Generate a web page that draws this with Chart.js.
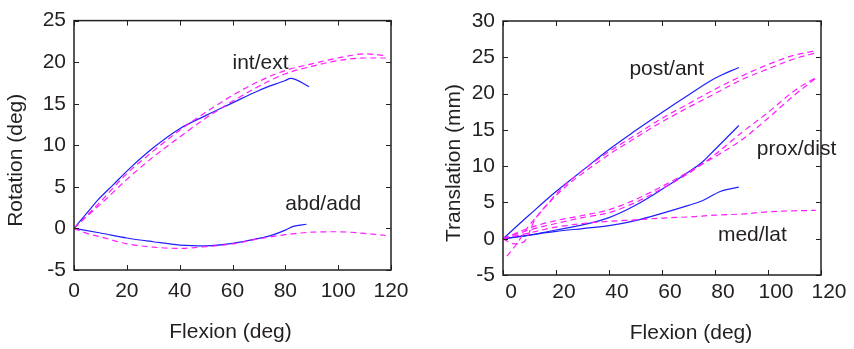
<!DOCTYPE html>
<html>
<head>
<meta charset="utf-8">
<script src="https://cdn.jsdelivr.net/npm/chart.js@4.4.6/dist/chart.umd.min.js"></script>
<style>
  html, body { margin: 0; padding: 0; background: #fff; }
  .wrap { position: absolute; top: 0; width: 427px; height: 349px; }
  #left { left: 0; }
  #right { left: 427px; }
</style>
</head>
<body>
<div class="wrap" id="left"><canvas id="rot"></canvas></div>
<div class="wrap" id="right"><canvas id="tra"></canvas></div>
<script>
// ---------------------------------------------------------------------------
// Data (flexion in deg on x)
// ---------------------------------------------------------------------------

// Rotation — int/ext
const ieBlueX = [0, 5, 9, 15, 21, 30, 40, 50, 60, 70, 80, 82, 89]
const ieBlueY = [0, 1.9, 3.4, 5.3, 7.2, 9.7, 12.0, 13.6, 15.1, 16.6, 17.8, 18.05, 17.05]
const ieMagX = [0, 5, 10, 20, 30, 40, 50, 60, 70, 80, 90, 100, 110, 118]
const ieMagAY = [0, 1.6, 3.2, 6.6, 9.3, 11.8, 14.0, 16.0, 17.7, 19.0, 19.8, 20.5, 21.0, 20.8]
const ieMagBY = [0, 1.5, 2.9, 5.9, 8.6, 11.0, 13.3, 15.3, 17.1, 18.6, 19.5, 20.2, 20.5, 20.5]

// Rotation — abd/add
const aaBlueX = [0, 10, 20, 30, 40, 50, 60, 70, 75, 80, 83, 88]
const aaBlueY = [0, -0.55, -1.15, -1.6, -2.0, -2.1, -1.8, -1.2, -0.8, -0.2, 0.25, 0.5]
const aaMagX = [0, 5, 10, 20, 30, 40, 50, 60, 70, 80, 90, 100, 110, 118]
const aaMagY = [0, -0.6, -1.0, -1.85, -2.25, -2.4, -2.2, -1.85, -1.25, -0.75, -0.45, -0.4, -0.6, -0.85]

// Translation — post/ant
const paBlueX = [0, 10, 20, 30, 40, 50, 60, 70, 80, 89]
const paBlueY = [0, 3.3, 6.5, 9.4, 12.3, 14.9, 17.4, 19.8, 22.1, 23.6]
const paMagAX = [1.5, 5, 9, 15, 22, 30, 40, 50, 60, 70, 80, 90, 100, 110, 118]
const paMagAY = [-2.4, -0.8, 1.4, 4.0, 6.9, 9.4, 12.0, 14.3, 16.6, 18.6, 20.6, 22.4, 24.0, 25.3, 25.9]
const paMagBX = [0, 4, 8, 12, 18, 25, 30, 40, 50, 60, 70, 80, 90, 100, 110, 118]
const paMagBY = [0, -0.7, -0.4, 2.6, 5.2, 7.6, 9.0, 11.6, 13.9, 16.1, 18.1, 20.0, 21.9, 23.4, 24.8, 25.6]

// Translation — prox/dist
const pdBlueX = [0, 10, 20, 30, 40, 50, 60, 70, 75, 80, 89]
const pdBlueY = [0, 0.5, 1.2, 1.9, 2.9, 4.6, 6.8, 9.2, 10.5, 12.3, 15.6]
const pdMagX = [0, 10, 20, 30, 40, 50, 60, 70, 80, 90, 100, 110, 118]
const pdMagAY = [0, 1.5, 2.5, 3.2, 4.0, 5.4, 7.2, 9.2, 11.3, 13.6, 16.6, 19.8, 22.1]
const pdMagBY = [0, 1.2, 2.1, 2.9, 3.6, 5.0, 6.9, 9.0, 11.6, 14.6, 17.4, 20.4, 22.2]

// Translation — med/lat
const mlBlueX = [0, 10, 20, 30, 40, 50, 60, 70, 75, 82, 89]
const mlBlueY = [0, 0.5, 1.0, 1.4, 1.8, 2.5, 3.5, 4.6, 5.2, 6.5, 7.1]
const mlMagX = [0, 10, 20, 30, 40, 50, 60, 70, 80, 90, 100, 110, 118]
const mlMagY = [0, 0.8, 1.6, 2.1, 2.4, 2.6, 2.85, 3.0, 3.25, 3.4, 3.7, 3.85, 3.9]

// axis ranges / ticks
const xTicks = [0, 20, 40, 60, 80, 100, 120]
const rotTicks = [-5, 0, 5, 10, 15, 20, 25]
const traTicks = [-5, 0, 5, 10, 15, 20, 25, 30]

// curve labels (data coords of the text's left/middle)
const rotLabels = [
  { text: 'int/ext', x: 60, y: 19.9 },
  { text: 'abd/add', x: 80, y: 2.9 }
]
const traLabels = [
  { text: 'post/ant', x: 47.7, y: 23.4 },
  { text: 'prox/dist', x: 95.8, y: 12.4 },
  { text: 'med/lat', x: 81.1, y: 0.55 }
]

// ---------------------------------------------------------------------------
const INK = '#231f20'
const BLUE = '#1f1fff'
const MAG = '#ff1aff'
const FONT = '"Liberation Sans", Arial, sans-serif'
const FSIZE = 21

function pts (xs, ys) { return xs.map((x, i) => ({ x, y: ys[i] })) }

function solid (xs, ys) {
  return { data: pts(xs, ys), borderColor: BLUE, borderWidth: 1.2, pointRadius: 0, cubicInterpolationMode: 'monotone', fill: false }
}
function dashed (xs, ys) {
  return { data: pts(xs, ys), borderColor: MAG, borderWidth: 1.2, borderDash: [6, 4], pointRadius: 0, cubicInterpolationMode: 'monotone', fill: false }
}

// box + inward tick marks on all four sides (MATLAB look)
const boxPlugin = {
  id: 'box',
  afterDraw (chart) {
    const { ctx, chartArea: a, scales } = chart
    const len = 5
    ctx.save()
    ctx.strokeStyle = INK
    ctx.lineWidth = 1
    ctx.beginPath()
    scales.x.ticks.forEach(t => {
      const px = Math.round(scales.x.getPixelForValue(t.value)) + 0.5
      ctx.moveTo(px, a.bottom); ctx.lineTo(px, a.bottom - len)
      ctx.moveTo(px, a.top); ctx.lineTo(px, a.top + len)
    })
    scales.y.ticks.forEach(t => {
      const py = Math.round(scales.y.getPixelForValue(t.value)) + 0.5
      ctx.moveTo(a.left, py); ctx.lineTo(a.left + len, py)
      ctx.moveTo(a.right, py); ctx.lineTo(a.right - len, py)
    })
    ctx.stroke()
    ctx.lineWidth = 1.5
    ctx.strokeRect(a.left, a.top, a.right - a.left, a.bottom - a.top)
    ctx.restore()
  }
}

// curve names + axis titles
const textPlugin = {
  id: 'texts',
  afterDraw (chart, args, opts) {
    const { ctx, chartArea: a, scales } = chart
    ctx.save()
    ctx.fillStyle = INK
    ctx.font = FSIZE + 'px ' + FONT
    ctx.textBaseline = 'middle'
    ctx.textAlign = 'left'
    opts.labels.forEach(l => {
      ctx.fillText(l.text, scales.x.getPixelForValue(l.x), scales.y.getPixelForValue(l.y))
    })
    ctx.textAlign = 'center'
    const cx = (a.left + a.right) / 2
    const cy = (a.top + a.bottom) / 2
    ctx.fillText(opts.xTitle, cx + opts.xShift, opts.xTitleY)
    ctx.translate(opts.yTitleX, cy + opts.yShift)
    ctx.rotate(-Math.PI / 2)
    ctx.fillText(opts.yTitle, 0, 0)
    ctx.restore()
  }
}

function makeChart (id, datasets, cfg) {
  return new Chart(document.getElementById(id), {
    type: 'line',
    data: { datasets },
    options: {
      responsive: true,
      maintainAspectRatio: false,
      animation: false,
      layout: { padding: { top: cfg.top, right: cfg.right, left: 0, bottom: 0 } },
      plugins: {
        legend: { display: false },
        tooltip: { enabled: false },
        texts: cfg.texts
      },
      scales: {
        x: {
          type: 'linear',
          min: 0,
          max: 120,
          afterBuildTicks: s => { s.ticks = xTicks.map(v => ({ value: v })) },
          afterFit: s => { s.height = cfg.xHeight },
          grid: { display: false, drawTicks: false },
          border: { display: false },
          ticks: { color: INK, font: { family: FONT, size: FSIZE }, padding: cfg.xPad, labelOffset: cfg.xLabelOffset, maxRotation: 0 }
        },
        y: {
          type: 'linear',
          min: cfg.yTicks[0],
          max: cfg.yTicks[cfg.yTicks.length - 1],
          afterBuildTicks: s => { s.ticks = cfg.yTicks.map(v => ({ value: v })) },
          afterFit: s => { s.width = cfg.yWidth },
          grid: { display: false, drawTicks: false },
          border: { display: false },
          ticks: { color: INK, font: { family: FONT, size: FSIZE }, padding: 8 }
        }
      }
    },
    plugins: [boxPlugin, textPlugin]
  })
}

makeChart('rot', [
  dashed(ieMagX, ieMagAY),
  dashed(ieMagX, ieMagBY),
  dashed(aaMagX, aaMagY),
  solid(ieBlueX, ieBlueY),
  solid(aaBlueX, aaBlueY)
], {
  top: 19, right: 36, xHeight: 79, yWidth: 74, xPad: 9, xLabelOffset: 0,
  yTicks: rotTicks,
  texts: { labels: rotLabels, xTitle: 'Flexion (deg)', xTitleY: 332, xShift: -2, yTitle: 'Rotation (deg)', yTitleX: 16, yShift: 15 }
})

makeChart('tra', [
  dashed(paMagAX, paMagAY),
  dashed(paMagBX, paMagBY),
  dashed(pdMagX, pdMagAY),
  dashed(pdMagX, pdMagBY),
  dashed(mlMagX, mlMagY),
  solid(paBlueX, paBlueY),
  solid(pdBlueX, pdBlueY),
  solid(mlBlueX, mlBlueY)
], {
  top: 21, right: 33, xHeight: 74, yWidth: 76, xPad: 5, xLabelOffset: 8,
  yTicks: traTicks,
  texts: { labels: traLabels, xTitle: 'Flexion (deg)', xTitleY: 333, xShift: 29, yTitle: 'Translation (mm)', yTitleX: 27, yShift: 15 }
})
</script>
</body>
</html>
